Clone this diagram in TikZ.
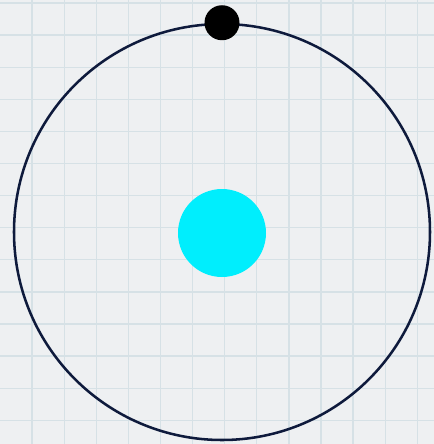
\documentclass[tikz,border=0pt]{standalone}
\usepackage{tikz}
\usetikzlibrary{positioning}
\usepackage{xcolor}
\definecolor{paper}{HTML}{EEF0F2}
\definecolor{gridline}{HTML}{D6E1E6}
\definecolor{orbitc}{HTML}{0E1A3C}
\definecolor{nucleusc}{HTML}{00EEFD}

\begin{document}
\begin{tikzpicture}[x=0.75pt,y=-0.75pt,
      orbitring/.style={circle,draw=orbitc,line width=1.9pt,minimum size=416*0.75pt,inner sep=0pt},
      nucleus/.style={circle,fill=nucleusc,minimum size=88*0.75pt,inner sep=0pt},
      electron/.style={circle,fill=black,minimum size=35*0.75pt,inner sep=0pt}]
    % grid paper
    \fill[paper] (0,0) rectangle (434,444);
    \useasboundingbox (0,0) rectangle (434,444);
    \foreach \i in {1,...,13} \draw[gridline,line width=1pt] (32.1*\i,0) -- (32.1*\i,444);
    \foreach \j in {0,...,13} \draw[gridline,line width=1pt] (0,3+32.1*\j) -- (434,3+32.1*\j);
    \node[orbitring] (orbit) at (222,232) {};
    \node[nucleus] (core) at (222,233) {};
    \node[electron] (e) at (orbit.north) {};
  \end{tikzpicture}
\end{document}
